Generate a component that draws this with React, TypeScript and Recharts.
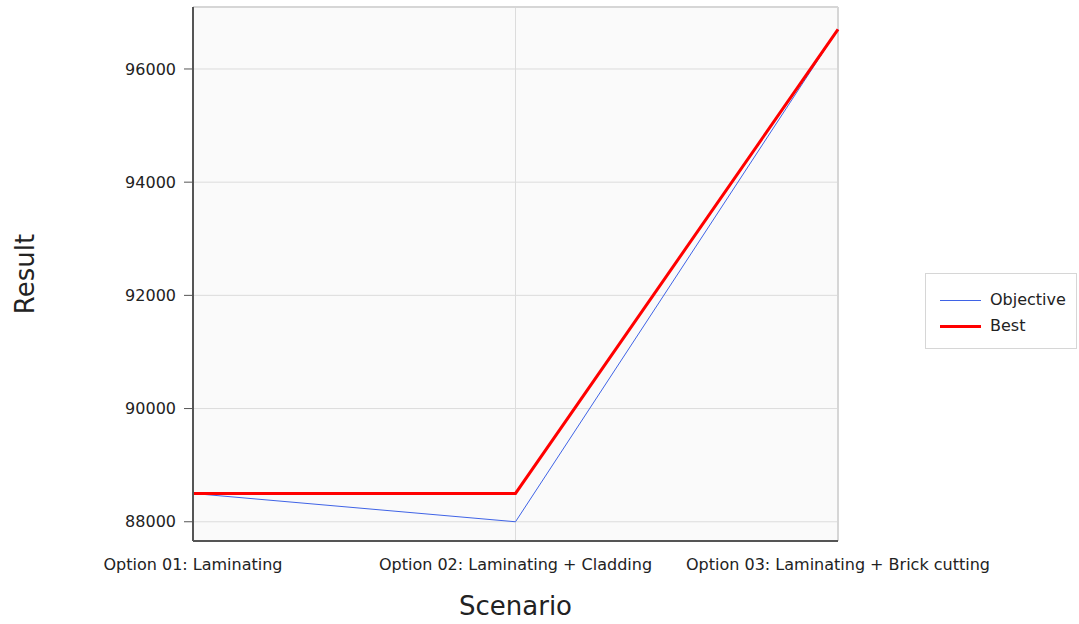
import { CartesianGrid, Line, LineChart, ReferenceLine, XAxis, YAxis } from "recharts";

const scenarios = [
  "Option 01: Laminating",
  "Option 02: Laminating + Cladding",
  "Option 03: Laminating + Brick cutting",
];
const objective = [88500, 88000, 96700];
const best = [88500, 88500, 96700];
const yTicks = [88000, 90000, 92000, 94000, 96000];
const yDomain = [87660, 97095];

const data = scenarios.map((name, i) => ({ name, objective: objective[i], best: best[i] }));

const font = "'DejaVu Sans', Tahoma, sans-serif";

function LegendBox() {
  return (
    <div
      style={{
        position: "absolute",
        left: 925,
        top: 273,
        width: 152,
        height: 76,
        boxSizing: "border-box",
        background: "#fff",
        border: "1px solid #d6d6d6",
        padding: "13px 0 0 14px",
        fontFamily: font,
        fontSize: 16,
        color: "#222",
        lineHeight: "26px",
      }}
    >
      <div style={{ display: "flex", alignItems: "center" }}>
        <span style={{ display: "block", flexShrink: 0, width: 41, borderTop: "1px solid #3f63e6", marginRight: 9 }} />
        Objective
      </div>
      <div style={{ display: "flex", alignItems: "center" }}>
        <span style={{ display: "block", flexShrink: 0, width: 41, borderTop: "3px solid #ff0000", marginRight: 9 }} />
        Best
      </div>
    </div>
  );
}

export default function App() {
  return (
    <div style={{ position: "fixed", left: 0, top: 0, width: 1079, height: 624, background: "#fff" }}>
      <LineChart width={1079} height={624} data={data} margin={{ top: 7, right: 241, bottom: 0, left: 0 }}>
        <CartesianGrid stroke="#dcdcdc" fill="#fafafa" />
        <XAxis
          dataKey="name"
          axisLine={{ stroke: "#555", strokeWidth: 2 }}
          tickLine={false}
          tickSize={6}
          tickMargin={12}
          height={83}
          interval={0}
          tick={{ fill: "#222", fontSize: 16, fontFamily: font }}
          label={{ value: "Scenario", position: "insideBottom", offset: 9, fill: "#222", fontSize: 26, fontFamily: font }}
        />
        <YAxis
          type="number"
          domain={yDomain}
          ticks={yTicks}
          allowDataOverflow
          width={193}
          axisLine={{ stroke: "#555", strokeWidth: 2 }}
          tickLine={{ stroke: "#555" }}
          tickSize={9}
          tickMargin={8}
          tick={{ fill: "#222", fontSize: 16, fontFamily: font }}
          label={{
            value: "Result",
            angle: -90,
            position: "insideLeft",
            offset: 25,
            fill: "#222",
            fontSize: 26,
            fontFamily: font,
            style: { textAnchor: "middle" },
          }}
        />
        <ReferenceLine y={yDomain[1]} stroke="#d6d6d6" strokeWidth={2} />
        <ReferenceLine x={scenarios[2]} stroke="#d6d6d6" strokeWidth={2} />
        <Line
          type="linear"
          dataKey="objective"
          name="Objective"
          stroke="#3f63e6"
          strokeWidth={1}
          dot={false}
          isAnimationActive={false}
        />
        <Line
          type="linear"
          dataKey="best"
          name="Best"
          stroke="#ff0000"
          strokeWidth={3}
          dot={false}
          isAnimationActive={false}
        />
      </LineChart>
      <LegendBox />
    </div>
  );
}
